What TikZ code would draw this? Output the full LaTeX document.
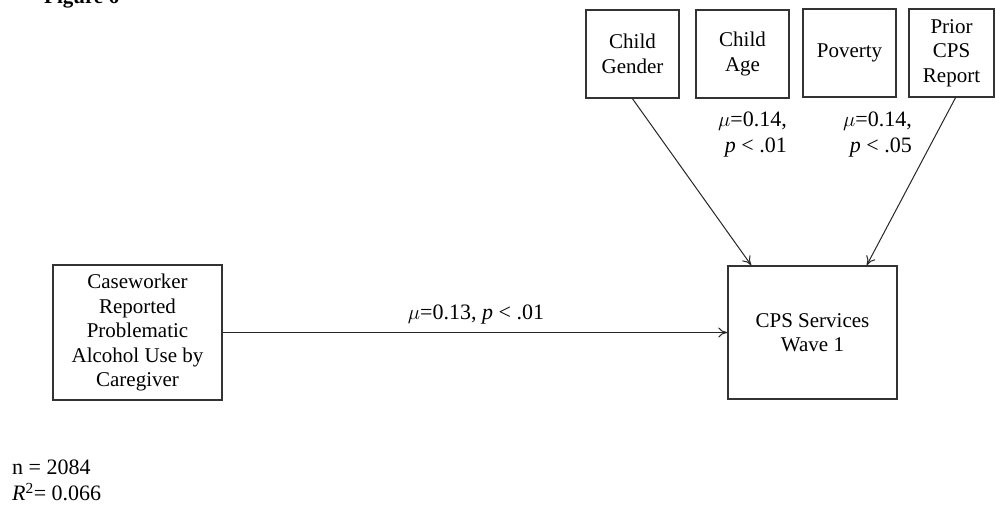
\documentclass[tikz,border=0pt]{standalone}
\usepackage{fontspec}
\setmainfont{Liberation Serif}
\usetikzlibrary{arrows.meta}
\tikzset{
  box/.style={draw=black!80, line width=1.5pt, align=center, inner sep=2pt,
              font=\fontsize{21}{24.5}\selectfont},
  conn/.style={draw=black!85, line width=1pt, -{To[length=9pt,width=10pt]}},
  lab/.style={font=\fontsize{22}{26}\selectfont, inner sep=0pt},
}
\begin{document}
\begin{tikzpicture}[x=1pt,y=-1pt]
\useasboundingbox (0,0) rectangle (996,504);
\node[anchor=base west, font=\fontsize{21}{24}\selectfont\bfseries, inner sep=0pt] (fig) at (44,3) {Figure 6};

\node[box, minimum width=93pt, minimum height=88pt] (gender) at (632.5,54) {Child\\Gender};
\node[box, minimum width=93pt, minimum height=88pt] (age) at (742.5,54) {Child\\Age};
\node[box, minimum width=93pt, minimum height=88pt] (pov) at (849.5,53) {Poverty};
\node[box, minimum width=85pt, minimum height=88pt] (prior) at (951.5,53) {Prior\\CPS\\Report};

\node[box, minimum width=169pt, minimum height=135pt] (case) at (137.5,332.5) {Caseworker\\Reported\\Problematic\\Alcohol Use by\\Caregiver};
\node[box, minimum width=169pt, minimum height=133pt] (cps) at (812.5,332.5) {CPS Services\\Wave 1};

\draw[conn] (case.east) -- (cps.west);
\draw[conn] (gender.south) -- ([xshift=24pt]cps.north west);
\draw[conn] ([xshift=4pt]prior.south) -- ([xshift=-31pt]cps.north east);

\node[lab] (l1) at (476,315) {$\mu$=0.13, \textit{p} < .01};
\node[lab, align=right, anchor=east] (l2) at (787,135) {$\mu$=0.14,\\\textit{p} < .01};
\node[lab, align=right, anchor=east] (l3) at (912,135) {$\mu$=0.14,\\\textit{p} < .05};

\node[lab, anchor=west] (n) at (12,467) {n = 2084};
\node[lab, anchor=west] (r) at (12,492) {\textit{R}\textsuperscript{2}= 0.066};
\end{tikzpicture}
\end{document}
